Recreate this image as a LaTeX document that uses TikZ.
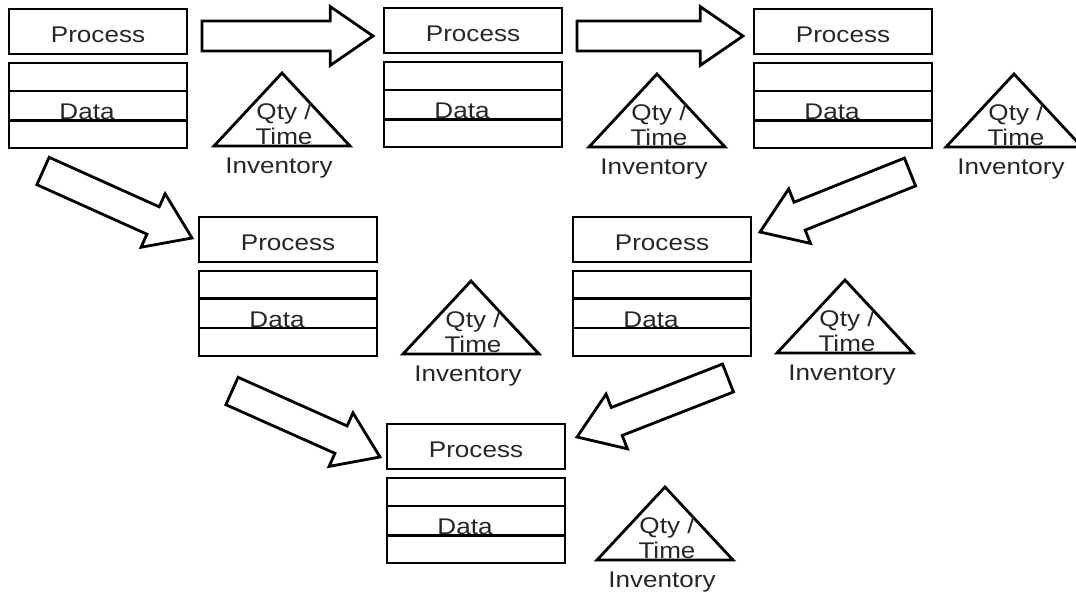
\documentclass[tikz,border=0pt]{standalone}
\usepackage{fontspec}
\setmainfont{Liberation Sans}[FakeStretch=1.15]
\usetikzlibrary{calc}
\tikzset{
  x=0.75pt, y=-0.75pt,
  every node/.style={text=black!85, font=\fontsize{17}{19}\selectfont},
  pbox/.style={draw, line width=2.1pt, minimum width=133.5pt, minimum height=33.75pt, inner sep=0pt},
  dbox/.style={draw, line width=2.1pt, minimum width=133.5pt, minimum height=63.75pt, inner sep=0pt},
  thinln/.style={line width=1.2pt},
  thickln/.style={line width=2.1pt},
  tri/.style={draw, line width=2.1pt, line join=miter},
  fat/.style={draw, line width=2.1pt, line join=miter, fill=white},
}
% stage: name, center x, top y, style of first inner line, style of second inner line
\newcommand\stage[5]{%
  \node[pbox] (#1-p) at (#2,#3+22.5) {};
  \node (#1-pt) at ($(#1-p.center)+(0,3)$) {Process};
  \node[dbox] (#1-d) at (#2,#3+96.5) {};
  \draw[#4] ($(#1-d.north west)!1/3!(#1-d.south west)$) -- ($(#1-d.north east)!1/3!(#1-d.south east)$);
  \draw[#5] ($(#1-d.north west)!2/3!(#1-d.south west)$) -- ($(#1-d.north east)!2/3!(#1-d.south east)$);
  \node (#1-t) at ($(#1-d.center)+(-11,6)$) {Data};
}
% inventory triangle: name, apex x, apex y
\newcommand\inv[3]{%
  \coordinate (#1-a) at (#2,#3);
  \draw[tri] (#1-a) -- ++(68,73) -- ++(-136,0) -- cycle;
  \node[align=center, inner sep=0pt] (#1-q) at (#2+2,#3+51) {Qty /\\[0pt]Time};
  \node (#1-i) at (#2-3,#3+95) {Inventory};
}
% fat arrow from tail coordinate to tip coordinate
\newcommand\fatarrow[2]{%
  \coordinate (fh) at ($(#2)!32pt!(#1)$);
  \draw[fat] ($(#1)!11.25pt!90:(#2)$) -- ($(fh)!11.25pt!90:(#2)$) -- ($(fh)!22pt!90:(#2)$)
    -- (#2) -- ($(fh)!22pt!-90:(#2)$) -- ($(fh)!11.25pt!-90:(#2)$) -- ($(#1)!11.25pt!-90:(#2)$) -- cycle;
}
\begin{document}
\begin{tikzpicture}
\useasboundingbox (0,0) rectangle (1076,596);
% stages
\stage{s1}{98}{9}{thinln}{thickln}
\stage{s2}{473}{8}{thinln}{thickln}
\stage{s3}{843}{9}{thinln}{thickln}
\stage{s4}{288}{217}{thickln}{thinln}
\stage{s5}{662}{217}{thickln}{thinln}
\stage{s6}{476}{424}{thinln}{thickln}
% inventories
\inv{i1}{282}{73}
\inv{i2}{657}{74}
\inv{i3}{1014}{74}
\inv{i4}{471}{281}
\inv{i5}{845}{280}
\inv{i6}{665}{487}
% arrows
\coordinate (a1t) at (202,36);  \coordinate (a1h) at (373,36);
\coordinate (a2t) at (577,36);  \coordinate (a2h) at (743,36);
\coordinate (a3t) at (43,171);  \coordinate (a3h) at (192,238);
\coordinate (a4t) at (910,172); \coordinate (a4h) at (760,232);
\coordinate (a5t) at (232,391); \coordinate (a5h) at (380,457);
\coordinate (a6t) at (728,378); \coordinate (a6h) at (577,437);
\fatarrow{a1t}{a1h}
\fatarrow{a2t}{a2h}
\fatarrow{a3t}{a3h}
\fatarrow{a4t}{a4h}
\fatarrow{a5t}{a5h}
\fatarrow{a6t}{a6h}
\end{tikzpicture}
\end{document}
